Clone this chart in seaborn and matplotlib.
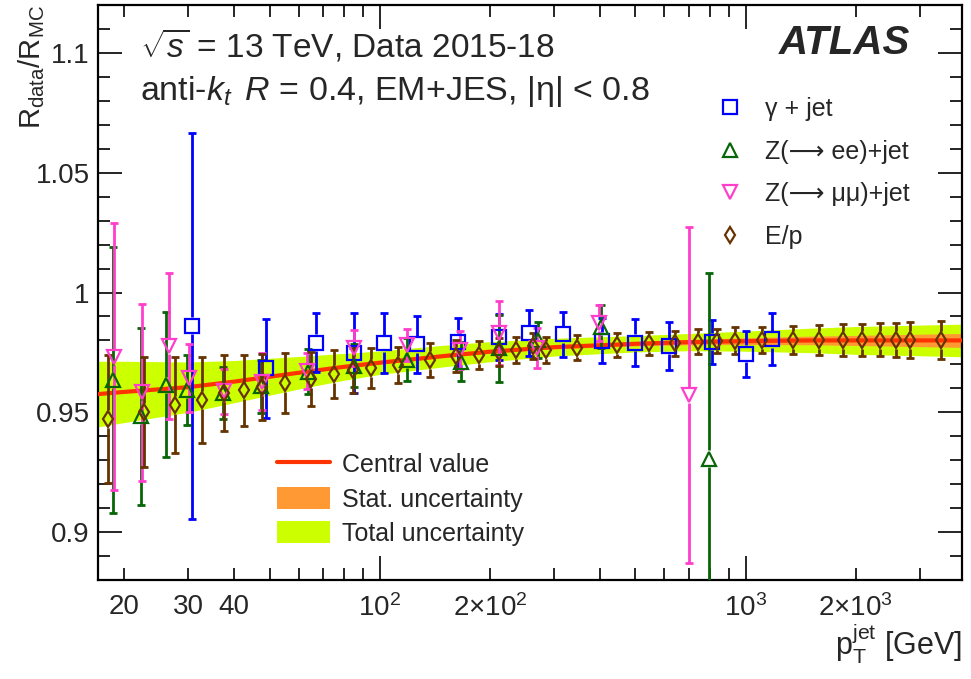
import numpy as np
import matplotlib
matplotlib.use("Agg")
import matplotlib.pyplot as plt
from matplotlib.ticker import FixedLocator, FixedFormatter, MultipleLocator, FormatStrFormatter
from matplotlib.lines import Line2D
from matplotlib.patches import Patch
import seaborn as sns

# in-situ combination band (central value, total and stat. half-widths)
band_pt = [17, 20, 30, 40, 60, 80, 100, 150, 200, 300, 500, 700, 1000, 1500, 2000, 3000, 3900]
band_central = [0.9576, 0.9585, 0.9605, 0.9628, 0.9665, 0.9690, 0.9707, 0.9735, 0.9753,
                0.9772, 0.9786, 0.9793, 0.9797, 0.9800, 0.9800, 0.9800, 0.9800]
band_total = [0.0137, 0.0128, 0.0105, 0.0088, 0.0068, 0.0056, 0.0049, 0.0045, 0.0042,
              0.0037, 0.0034, 0.0036, 0.0042, 0.0051, 0.0058, 0.0064, 0.0068]
band_stat = [0.0004, 0.0004, 0.0004, 0.0004, 0.0005, 0.0005, 0.0005, 0.0006, 0.0006,
             0.0007, 0.0009, 0.0011, 0.0014, 0.0018, 0.0021, 0.0026, 0.0029]

# gamma + jet
gjet_pt = [30.7, 48.95, 66.8, 85.1, 102.5, 126.4, 163.6, 211.2, 256.6, 317.7, 405.2,
           498.5, 615.7, 808.8, 1001, 1179]
gjet_val = [0.9861, 0.9684, 0.9791, 0.9749, 0.9788, 0.9784, 0.9795, 0.9815, 0.9830,
            0.9825, 0.9799, 0.9791, 0.9777, 0.9795, 0.9744, 0.9805]
gjet_err = [0.0805, 0.0206, 0.0124, 0.0167, 0.0125, 0.0119, 0.0100, 0.0095, 0.0095,
            0.0094, 0.0095, 0.0099, 0.0101, 0.0092, 0.0097, 0.0109]

# Z(->ee) + jet
zee_pt = [18.72, 22.28, 26.11, 29.74, 37.36, 47.26, 63.6, 85.1, 118.7, 167.1, 211.2,
          270.4, 402.7, 795]
zee_val = [0.9636, 0.9483, 0.9615, 0.9594, 0.9580, 0.9608, 0.9670, 0.9694, 0.9719,
           0.9712, 0.9767, 0.9802, 0.9857, 0.9307]
zee_err = [0.0555, 0.0370, 0.0303, 0.0145, 0.0110, 0.0110, 0.0095, 0.0090, 0.0090,
           0.0080, 0.0140, 0.0075, 0.0090, 0.0775]

# Z(->mumu) + jet
zmm_pt = [18.84, 22.42, 26.56, 30.06, 37.53, 47.56, 63.1, 85.1, 118.7, 165.3, 211.2,
          268.7, 398.5, 701]
zmm_val = [0.9732, 0.9583, 0.9777, 0.9644, 0.9587, 0.9628, 0.9674, 0.9767, 0.9781,
           0.9760, 0.9830, 0.9767, 0.9874, 0.9573]
zmm_err = [0.0557, 0.0370, 0.0305, 0.0142, 0.0095, 0.0120, 0.0075, 0.0075, 0.0065,
           0.0080, 0.0133, 0.0083, 0.0075, 0.0700]

# E/p
ep_pt = [18.07, 22.66, 27.58, 32.62, 37.6, 42.55, 47.56, 54.95, 65.1, 74.9, 84.6, 94.7,
         112.2, 136.9, 161.9, 186.2, 211.2, 236, 261.9, 285, 346.3, 444.2, 543, 642.3,
         738.8, 832.4, 936.4, 1107, 1350, 1587, 1845, 2083, 2328, 2570, 2811, 3409]
ep_val = [0.9472, 0.9500, 0.9532, 0.9552, 0.9580, 0.9591, 0.9606, 0.9624, 0.9640, 0.9659,
          0.9675, 0.9684, 0.9698, 0.9719, 0.9735, 0.9739, 0.9753, 0.9760, 0.9777, 0.9760,
          0.9770, 0.9781, 0.9788, 0.9788, 0.9795, 0.9798, 0.9799, 0.9802, 0.9802, 0.9802,
          0.9802, 0.9802, 0.9802, 0.9802, 0.9802, 0.9802]
ep_err = [0.0266, 0.0230, 0.0200, 0.0179, 0.0160, 0.0148, 0.0137, 0.0125, 0.0112, 0.0099,
          0.0093, 0.0084, 0.0075, 0.0071, 0.0066, 0.0059, 0.0058, 0.0056, 0.0056, 0.0053,
          0.0052, 0.0050, 0.0047, 0.0053, 0.0053, 0.0050, 0.0055, 0.0056, 0.0060, 0.0063,
          0.0066, 0.0067, 0.0069, 0.0072, 0.0075, 0.0081]

xticks_major = [100, 1000]
xticks_major_labels = [r"$10^{2}$", r"$10^{3}$"]
xticks_minor = [20, 30, 40, 50, 60, 70, 80, 90, 200, 300, 400, 500, 600, 700, 800, 900, 2000, 3000]
xticks_minor_labels = ["20", "30", "40", "", "", "", "", "", r"$2{\times}10^{2}$", "", "", "", "",
                       "", "", "", r"$2{\times}10^{3}$", ""]

BLUE = "#0000ff"
GREEN = "#076607"
PINK = "#ff3fcc"
BROWN = "#663300"

sns.set_style("ticks")
plt.rcParams["font.family"] = ["Liberation Sans", "DejaVu Sans"]
plt.rcParams["mathtext.fontset"] = "custom"
plt.rcParams["mathtext.rm"] = "Liberation Sans"
plt.rcParams["mathtext.it"] = "Liberation Sans:italic"
plt.rcParams["mathtext.bf"] = "Liberation Sans:bold"

DPI = 100
fig = plt.figure(figsize=(9.71, 6.79), dpi=DPI)
ax = fig.add_axes([0.101, 0.1458, 0.8897, 0.8468])
ax.set_xscale("log")
ax.set_xlim(17, 3900)
ax.set_ylim(0.88, 1.12)

# bands
c = np.array(band_central)
tot = np.array(band_total)
st = np.array(band_stat)
ax.fill_between(band_pt, c - tot, c + tot, color="#ccff00", lw=0, zorder=1)
ax.fill_between(band_pt, c - st, c + st, color="#ff9933", lw=0, zorder=2)
sns.lineplot(x=band_pt, y=band_central, ax=ax, color="#ff3300", lw=3, zorder=3)

MEW = 1.6
px_per_unit = 6.79 * DPI * 0.8468 / (1.12 - 0.88)


def draw_series(pt, val, err, color, marker, ms, half):
    pt = np.asarray(pt)
    val = np.asarray(val)
    err = np.asarray(err)
    gap = (half + MEW / 2) * DPI / 72 / px_per_unit
    ok = err > gap
    ax.vlines(pt[ok], val[ok] + gap, val[ok] + err[ok], color=color, lw=2, zorder=4)
    ax.vlines(pt[ok], val[ok] - err[ok], val[ok] - gap, color=color, lw=2, zorder=4)
    ax.plot(pt, val + err, ls="none", marker="_", ms=6, mew=2, color=color, zorder=4)
    ax.plot(pt, val - err, ls="none", marker="_", ms=6, mew=2, color=color, zorder=4)
    ax.plot(pt, val, ls="none", marker=marker, ms=ms, mfc="none", mec=color, mew=MEW, zorder=5)


draw_series(gjet_pt, gjet_val, gjet_err, BLUE, "s", 10.5, 5.25)
draw_series(zee_pt, zee_val, zee_err, GREEN, "^", 10, 5)
draw_series(zmm_pt, zmm_val, zmm_err, PINK, "v", 10, 5)
draw_series(ep_pt, ep_val, ep_err, BROWN, "d", 8, 5.66)

# axes styling
ax.xaxis.set_major_locator(FixedLocator(xticks_major))
ax.xaxis.set_major_formatter(FixedFormatter(xticks_major_labels))
ax.xaxis.set_minor_locator(FixedLocator(xticks_minor))
ax.xaxis.set_minor_formatter(FixedFormatter(xticks_minor_labels))
ax.yaxis.set_major_locator(MultipleLocator(0.05))
ax.yaxis.set_minor_locator(MultipleLocator(0.01))
ax.yaxis.set_major_formatter(FormatStrFormatter("%g"))
ax.tick_params(which="both", direction="in", top=True, right=True, labelsize=20,
               width=1.2, color="black")
ax.tick_params(which="major", length=17)
ax.tick_params(which="minor", length=8.5)
ax.tick_params(axis="x", which="both", pad=10)
ax.tick_params(axis="y", which="both", pad=6)
for sp in ax.spines.values():
    sp.set_linewidth(1.6)
    sp.set_color("black")

ax.set_xlabel(r"$\mathrm{p_{T}^{jet}}$ [GeV]", fontsize=22, loc="right", labelpad=0)
ax.set_ylabel(r"$\mathrm{R_{data}/R_{MC}}$", fontsize=21, loc="top", labelpad=-8)

ax.text(0.0486, 0.930, r"$\sqrt{s}$ = 13 TeV, Data 2015-18", transform=ax.transAxes,
        fontsize=24, va="center", ha="left")
ax.text(0.0486, 0.849, r"anti-$k_{t}\,$ $R$ = 0.4, EM+JES, |η| < 0.8", transform=ax.transAxes,
        fontsize=24.5, va="center", ha="left")
ax.text(0.94, 0.934, "ATLAS", transform=ax.transAxes, fontsize=29, fontweight="bold",
        fontstyle="italic", va="center", ha="right")

h1 = [
    Line2D([], [], ls="none", marker="s", ms=10.5, mfc="none", mec=BLUE, mew=MEW),
    Line2D([], [], ls="none", marker="^", ms=10, mfc="none", mec=GREEN, mew=MEW),
    Line2D([], [], ls="none", marker="v", ms=10, mfc="none", mec=PINK, mew=MEW),
    Line2D([], [], ls="none", marker="d", ms=8, mfc="none", mec=BROWN, mew=MEW),
]
l1 = ax.legend(h1, ["γ + jet", "Z(\u27f6 ee)+jet", "Z(\u27f6 μμ)+jet", "E/p"],
               loc="upper left", bbox_to_anchor=(0.717, 0.840), frameon=False, fontsize=18,
               borderpad=0, handlelength=1.0, handletextpad=0.9, labelspacing=0.74,
               borderaxespad=0)
ax.add_artist(l1)

h2 = [
    Line2D([], [], color="#ff3300", lw=3),
    Patch(facecolor="#ff9933", edgecolor="none"),
    Patch(facecolor="#ccff00", edgecolor="none"),
]
ax.legend(h2, ["Central value", "Stat. uncertainty", "Total uncertainty"], loc="upper left",
          bbox_to_anchor=(0.2072, 0.2217), frameon=False, fontsize=18, borderpad=0,
          handlelength=2.12, handleheight=1.0, handletextpad=0.48, labelspacing=0.38,
          borderaxespad=0)

fig.savefig("out.png", dpi=DPI)
